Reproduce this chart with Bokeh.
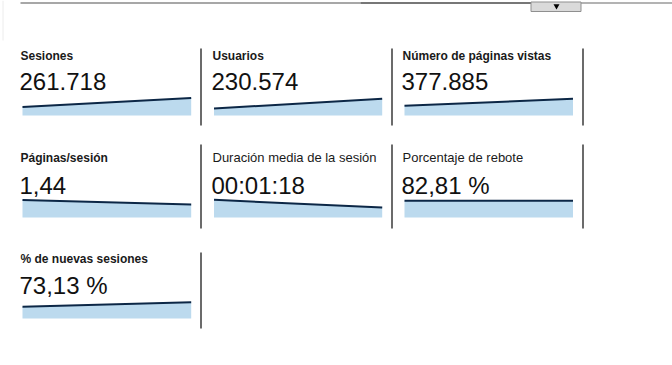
from bokeh.plotting import figure
from bokeh.models import Range1d
from bokeh.core.properties import value
from bokeh.embed import file_html
from bokeh.resources import INLINE

# ---- data ----
metrics = ["Sesiones", "Usuarios", "Número de páginas vistas",
           "Páginas/sesión", "Duración media de la sesión", "Porcentaje de rebote",
           "% de nuevas sesiones"]
totals = ["261.718", "230.574", "377.885", "1,44", "00:01:18", "82,81 %", "73,13 %"]
bold_title = [True, True, True, True, False, False, True]
# sparkline trend: relative level at start and end of the period
spark_start = [8.5, 7.0, 9.7, 17.6, 17.7, 16.7, 11.7]
spark_end = [17.5, 16.7, 16.7, 13.0, 10.0, 16.7, 16.3]
spark_idx = [0, 1]

# ---- layout (pixels) ----
W, H = 672, 365
col_text_x = [20, 212, 402]
col_spark = [(22, 190.7), (213.5, 381.7), (404, 572.5)]
col_div_x = [200, 391, 582]
row_title_y = [61.5, 163.5, 265]
row_value_y = [93, 196.5, 297.3]
row_base_y = [115, 217, 318]
row_div = [(48, 125), (144, 228), (252, 328)]
TITLE_PX, BOLD_PX, VALUE_PX = 13, 12, 24

p = figure(width=W, height=H, x_range=Range1d(0, W), y_range=Range1d(H, 0),
           output_backend="svg", toolbar_location=None, min_border=0,
           x_axis_location=None, y_axis_location=None)
p.grid.visible = False
p.outline_line_color = None
p.background_fill_color = "white"
p.border_fill_color = "white"

FONT = value("Liberation Sans")

# top rule and tab
p.segment(x0=[20, 360, 580], y0=[2.5] * 3, x1=[360, 531, W], y1=[2.5] * 3,
          line_color=["#8a8a8a", "#4a4a4a", "#9a9a9a"], line_width=1.5)
p.segment(x0=[2.5], y0=[0], x1=[2.5], y1=[40], line_color="#ececec", line_width=1)
p.quad(left=[530.5], right=[580.5], top=[1.5], bottom=[11],
       fill_color="#dadada", line_color="#8f8f8f", line_width=1)
p.scatter(x=[556], y=[5.5], marker="inverted_triangle", size=6,
          fill_color="black", line_color=None)

for i, (name, tot) in enumerate(zip(metrics, totals)):
    r, c = divmod(i, 3)
    tx = col_text_x[c]
    size = BOLD_PX if bold_title[i] else TITLE_PX
    p.text(x=[tx], y=[row_title_y[r] - 0.5 * TITLE_PX], text=[name], text_font=FONT,
           text_font_size=f"{size}px",
           text_font_style="bold" if bold_title[i] else "normal",
           text_color="#1a1a1a", text_baseline="alphabetic", text_align="left")
    p.text(x=[tx - 1], y=[row_value_y[r] - 0.5 * VALUE_PX], text=[tot], text_font=FONT,
           text_font_size=f"{VALUE_PX}px", text_color="#111111",
           text_baseline="alphabetic", text_align="left")

    # sparkline with its own scales
    X0, X1 = col_spark[c]
    xs = -X0 / (X1 - X0)
    xe = xs + W / (X1 - X0)
    Yb = row_base_y[r]
    ys = Yb - H
    ye = ys + H
    p.extra_x_ranges[f"sx{i}"] = Range1d(xs, xe)
    p.extra_y_ranges[f"sy{i}"] = Range1d(ys, ye)
    vals = [spark_start[i], spark_end[i]]
    p.varea(x=spark_idx, y1=[0, 0], y2=vals, fill_color="#bcdaee",
            x_range_name=f"sx{i}", y_range_name=f"sy{i}")
    p.line(x=spark_idx, y=vals, line_color="#0c2746", line_width=2,
           x_range_name=f"sx{i}", y_range_name=f"sy{i}")

# dividers
div_cells = [(0, 0), (0, 1), (0, 2), (1, 0), (1, 1), (1, 2), (2, 0)]
p.segment(x0=[col_div_x[c] + 0.5 for r, c in div_cells],
          y0=[row_div[r][0] for r, c in div_cells],
          x1=[col_div_x[c] + 0.5 for r, c in div_cells],
          y1=[row_div[r][1] for r, c in div_cells],
          line_color="#3a3a3a", line_width=1.5)

open("out.html", "w").write(file_html(p, INLINE))
